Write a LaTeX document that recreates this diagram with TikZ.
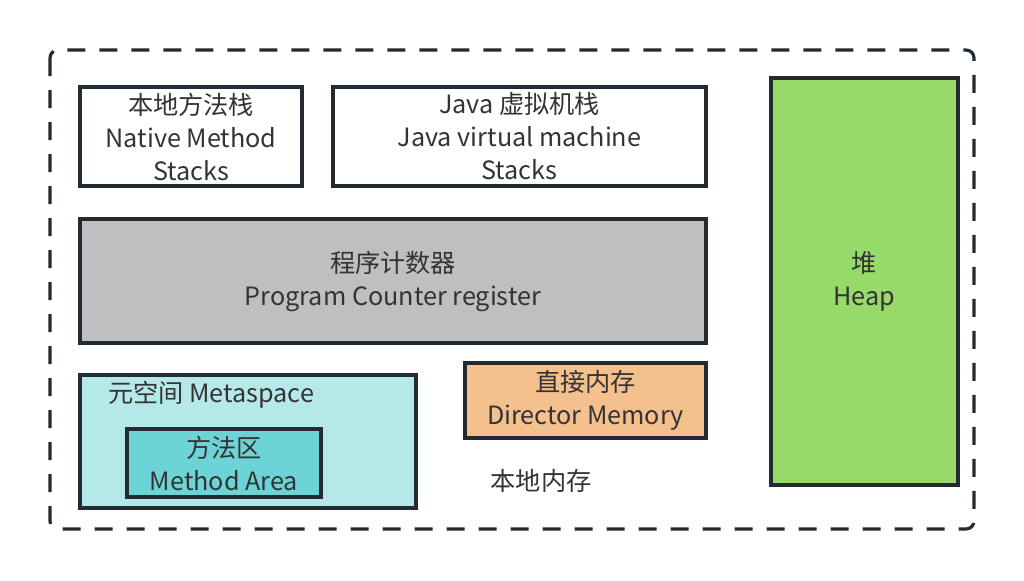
\documentclass[tikz,border=0pt]{standalone}
\usepackage{fontspec}
\setmainfont{Noto Sans CJK SC}
\usetikzlibrary{positioning}

\definecolor{framec}{HTML}{222B31}
\definecolor{textc}{HTML}{333333}
\definecolor{pcgray}{HTML}{BFBFBF}
\definecolor{heapgreen}{HTML}{97DA6A}
\definecolor{metacyan}{HTML}{B5E9E9}
\definecolor{areateal}{HTML}{6CD4D6}
\definecolor{directorange}{HTML}{F4C18E}

\tikzset{
  label text/.style={text=textc,font=\fontsize{12.6}{16.5}\selectfont},
  area/.style={draw=framec,line width=1.6pt,label text,align=center,inner sep=0pt},
}

\begin{document}
\begin{tikzpicture}[x=0.5pt,y=-0.5pt]
\useasboundingbox (0,0) rectangle (1024,580);

% outer frame
\draw[framec,line width=1.6pt,dash pattern=on 9pt off 7pt,rounded corners=4pt]
  (50,50) rectangle (974,529);

\node[area,minimum width=111pt,minimum height=49.5pt] (native) at (191,136.5)
  {本地方法栈\\Native Method\\Stacks};
\node[area,minimum width=186.5pt,minimum height=49.5pt] (jvm) at (519.5,136.5)
  {Java 虚拟机栈\\Java virtual machine\\Stacks};
\node[area,fill=pcgray,minimum width=313pt,minimum height=62pt] (pc) at (393,281)
  {程序计数器\\Program Counter register};
\node[area,fill=heapgreen,minimum width=93.5pt,minimum height=203.5pt] (heap) at (864.5,281.5)
  {堆\\Heap};

\node[area,fill=metacyan,minimum width=168pt,minimum height=66.5pt] (meta) at (248,441.5) {};
\node[label text,inner sep=0pt] (metalabel) at (211,395)
  {元空间 Metaspace};
\node[area,fill=areateal,minimum width=97pt,minimum height=34pt] (method) at (224,463)
  {方法区\\Method Area};

\node[area,fill=directorange,minimum width=120.5pt,minimum height=37.5pt] (direct) at (585.5,400.5)
  {直接内存\\Director Memory};
\node[label text,inner sep=0pt] (local) at (541,481)
  {本地内存};

\end{tikzpicture}
\end{document}
